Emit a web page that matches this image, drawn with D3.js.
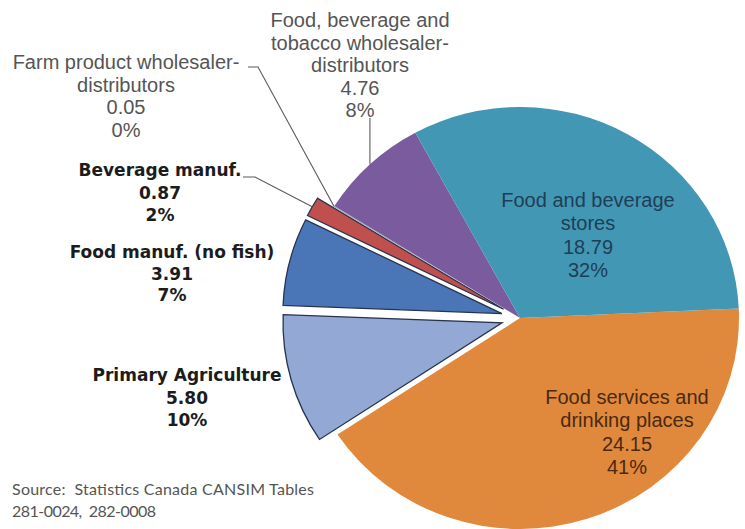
<!DOCTYPE html>
<html>
<head>
<meta charset="utf-8">
<script src="https://cdn.jsdelivr.net/npm/d3@7"></script>
<style>
  body { margin: 0; background: #fff; }
  svg { display: block; }
</style>
</head>
<body>
<svg id="chart" width="745" height="529"></svg>
<script>
// Food sector GDP shares (billions of dollars), clockwise from the right side
const categories = [
  "Food services and drinking places",
  "Primary Agriculture",
  "Food manuf. (no fish)",
  "Beverage manuf.",
  "Farm product wholesaler-distributors",
  "Food, beverage and tobacco wholesaler-distributors",
  "Food and beverage stores"
];
const values = [24.15, 5.80, 3.91, 0.87, 0.05, 4.76, 18.79];
const valueLabels = ["24.15", "5.80", "3.91", "0.87", "0.05", "4.76", "18.79"];
const percents = [41, 10, 7, 2, 0, 8, 32];
const exploded = [false, true, true, true, false, false, false];
const sourceLines = ["Source:  Statistics Canada CANSIM Tables", "281-0024,  282-0008"];

const colors = ["#e0883b", "#93a8d5", "#4a76b8", "#c0504d", "#a9a9a9", "#7a5c9e", "#4297b4"];

const svg = d3.select("#chart");
const cx = 520, cy = 318, r = 211, sx = 219 / 211, explodeBy = 18;

const pie = d3.pie().sort(null).value(d => d)
  .startAngle(87.4 * Math.PI / 180)
  .endAngle(87.4 * Math.PI / 180 + 2 * Math.PI);
const arcs = pie(values);
const arc = d3.arc().innerRadius(0).outerRadius(r);

const offsetOf = (d, i) => {
  const mid = (d.startAngle + d.endAngle) / 2;
  const k = exploded[i] ? explodeBy : 0;
  return [Math.sin(mid) * k, -Math.cos(mid) * k];
};

const g = svg.append("g").attr("transform", `translate(${cx},${cy}) scale(${sx},1)`);

g.selectAll("path.slice")
  .data(arcs)
  .join("path")
  .attr("class", "slice")
  .attr("transform", (d, i) => { const o = offsetOf(d, i); return `translate(${o[0]},${o[1]})`; })
  .attr("d", arc)
  .attr("fill", (d, i) => colors[i])
  .attr("stroke", (d, i) => exploded[i] ? "#26344f" : "none")
  .attr("stroke-width", 1.3)
  .attr("stroke-linejoin", "miter")
  .attr("vector-effect", "non-scaling-stroke");

// point on a slice's outer edge at its middle angle, in page coordinates
const edgePoint = i => {
  const d = arcs[i];
  const mid = (d.startAngle + d.endAngle) / 2;
  const o = offsetOf(d, i);
  return [cx + sx * (Math.sin(mid) * r + o[0]), cy + (-Math.cos(mid) * r + o[1])];
};

// leader lines for the labels placed outside the pie
const leaders = [
  { i: 4, pts: [[248, 67], [258, 67]] },
  { i: 3, pts: [[243, 177], [255, 177]] },
  { i: 5, pts: null }
];
const line = d3.line();
leaders.forEach(l => {
  const end = edgePoint(l.i);
  const pts = l.pts ? l.pts.concat([end]) : [[end[0], 118], end];
  svg.append("path")
    .attr("d", line(pts))
    .attr("fill", "none")
    .attr("stroke", "#5a5a5a")
    .attr("stroke-width", 1.1);
});

// data labels
const labelSpecs = [
  { i: 0, x: 627, y: 397, lines: ["Food services and", "drinking places"], fill: "#4a2a12", bold: false, gap: 23.3 },
  { i: 1, x: 187, y: 375, lines: ["Primary Agriculture"], fill: "#1c1c1c", bold: true, gap: 22.5 },
  { i: 2, x: 172, y: 252, lines: ["Food manuf. (no fish)"], fill: "#1c1c1c", bold: true, gap: 21.5 },
  { i: 3, x: 160, y: 170, lines: ["Beverage manuf."], fill: "#1c1c1c", bold: true, gap: 22.5 },
  { i: 4, x: 126, y: 62, lines: ["Farm product wholesaler-", "distributors"], fill: "#555", bold: false, gap: 22.7 },
  { i: 5, x: 360, y: 20, lines: ["Food, beverage and", "tobacco wholesaler-", "distributors"], fill: "#555", bold: false, gap: 22.5 },
  { i: 6, x: 588, y: 200, lines: ["Food and beverage", "stores"], fill: "#1f3e56", bold: false, gap: 23.3 }
];

labelSpecs.forEach(s => {
  const all = s.lines.concat([valueLabels[s.i], percents[s.i] + "%"]);
  const t = svg.append("text")
    .attr("text-anchor", "middle")
    .attr("fill", s.fill)
    .attr("font-family", s.bold ? "'DejaVu Sans', sans-serif" : "'Liberation Sans', Arial, sans-serif")
    .attr("font-weight", s.bold ? "bold" : "normal")
    .attr("font-size", s.bold ? 17 : 20);
  all.forEach((txt, k) => {
    t.append("tspan")
      .attr("x", s.x)
      .attr("y", s.y + k * s.gap)
      .attr("dominant-baseline", "central")
      .text(txt);
  });
});

// source note
const sourceWidths = [302, 144];
svg.append("g").selectAll("text")
  .data(sourceLines)
  .join("text")
  .attr("x", 12)
  .attr("y", (d, k) => 495 + k * 22)
  .attr("fill", "#555")
  .attr("font-family", "Lato, 'Open Sans', sans-serif")
  .attr("font-size", 16)
  .attr("textLength", (d, k) => sourceWidths[k])
  .attr("lengthAdjust", "spacing")
  .style("white-space", "pre")
  .text(d => d);
</script>
</body>
</html>
